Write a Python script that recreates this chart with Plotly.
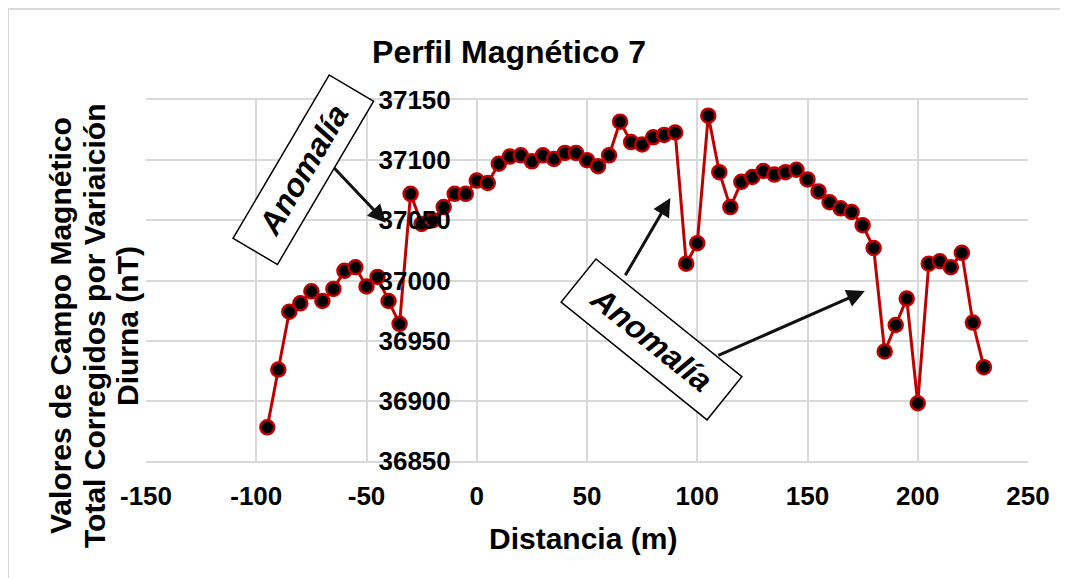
import plotly.graph_objects as go

distancia = [-95, -90, -85, -80, -75, -70, -65, -60, -55, -50, -45, -40, -35, -30, -25, -20,
             -15, -10, -5, 0, 5, 10, 15, 20, 25, 30, 35, 40, 45, 50, 55, 60, 65, 70, 75, 80,
             85, 90, 95, 100, 105, 110, 115, 120, 125, 130, 135, 140, 145, 150, 155, 160,
             165, 170, 175, 180, 185, 190, 195, 200, 205, 210, 215, 220, 225, 230]
campo = [36878, 36926, 36974, 36981, 36991, 36983, 36993, 37008, 37011, 36995, 37003, 36983,
         36964, 37072, 37047, 37050, 37061, 37072, 37072, 37083, 37081, 37097, 37103, 37104,
         37099, 37104, 37101, 37106, 37106, 37100, 37095, 37104, 37132, 37115, 37113, 37119,
         37121, 37123, 37014, 37031, 37137, 37090, 37061, 37082, 37086, 37091, 37088, 37090,
         37092, 37084, 37074, 37065, 37060, 37057, 37046, 37027, 36941, 36963, 36985, 36898,
         37014, 37016, 37011, 37023, 36965, 36928]

x_ticks = [-150, -100, -50, 0, 50, 100, 150, 200, 250]
y_ticks = [36850, 36900, 36950, 37000, 37050, 37100, 37150]

titulo = "Perfil Magnético 7"
x_titulo = "Distancia (m)"
y_titulo = ["Valores de Campo Magnético", "Total Corregidos por Variaición", "Diurna (nT)"]

FONT = "Liberation Sans, Arial, sans-serif"
RED = "#c00000"
GRID = "#d9d9d9"

# page offset of the plot div (browser body margin)
OFF = 8
W, H = 1060, 570
PL, PR, PT, PB = 146, 1028, 100, 461   # plot area in page pixels
L, R, T, B = PL - OFF, W - (PR - OFF), PT - OFF, H - (PB - OFF)
pw, ph = PR - PL, PB - PT


def px_x(p):
    return (p - PL) / pw


def px_y(p):
    return (PB - p) / ph


fig = go.Figure()
fig.add_trace(go.Scatter(
    x=distancia, y=campo, mode="lines+markers",
    line=dict(color=RED, width=3),
    marker=dict(size=14, color="black", line=dict(color=RED, width=2.5)),
    showlegend=False, cliponaxis=False,
))

fig.update_layout(
    width=W, height=H,
    margin=dict(l=L, r=R, t=T, b=B, autoexpand=False),
    paper_bgcolor="white", plot_bgcolor="white",
    font=dict(family=FONT, color="black"),
    title=dict(text=titulo, xref="container", yref="container",
               x=(509 - OFF) / W, xanchor="center", y=1 - (52 - OFF) / H, yanchor="middle",
               font=dict(size=32, weight="bold", family=FONT, color="black")),
    xaxis=dict(range=[-150, 250], tickvals=x_ticks, ticktext=[str(v) for v in x_ticks],
               showgrid=True, gridcolor=GRID, gridwidth=2, zeroline=False,
               showline=True, mirror=True, linecolor=GRID, linewidth=2,
               ticks="outside", ticklen=11, tickcolor="rgba(0,0,0,0)",
               tickfont=dict(size=26, weight="bold", family=FONT, color="black"),
               title=dict(text=""), fixedrange=True, automargin=False),
    yaxis=dict(range=[36850, 37150], tickvals=y_ticks, ticktext=[str(v) for v in y_ticks],
               anchor="free", position=px_x(476),
               showgrid=True, gridcolor=GRID, gridwidth=2, zeroline=False, showline=False,
               ticks="outside", ticklen=20, tickcolor="rgba(0,0,0,0)",
               tickfont=dict(size=26, weight="bold", family=FONT, color="black"),
               title=dict(text=""), fixedrange=True, automargin=False),
)

# Axis titles
fig.add_annotation(text=x_titulo, xref="paper", yref="paper", x=px_x(583), y=px_y(538),
                   xanchor="center", yanchor="middle", showarrow=False,
                   font=dict(size=30, weight="bold", family=FONT, color="black"))
for txt, cx in zip(y_titulo, [60, 94, 127]):
    fig.add_annotation(text=txt, xref="paper", yref="paper", x=px_x(cx), y=px_y(326),
                       xanchor="center", yanchor="middle", showarrow=False, textangle=-90,
                       font=dict(size=30, weight="bold", family=FONT, color="black"))

# Anomaly boxes
box_font = dict(size=32, weight="bold", style="italic", family=FONT, color="black")
fig.add_annotation(text="Anomalía", x=-78.5, y=37092, xref="x", yref="y",
                   xanchor="center", yanchor="middle", showarrow=False, textangle=-59.5,
                   width=186, height=48, borderpad=1, bordercolor="black", borderwidth=1.5,
                   bgcolor="white", font=box_font)
fig.add_annotation(text="Anomalía", x=79.3, y=36951, xref="x", yref="y",
                   xanchor="center", yanchor="middle", showarrow=False, textangle=38.9,
                   width=184, height=52, borderpad=1, bordercolor="black", borderwidth=1.5,
                   bgcolor="white", font=box_font)

# Arrows (tail -> head) in data coordinates
arrows = [((-65.3, 37094.8), (-41.2, 37048)),
          ((67.0, 37003.1), (87.8, 37068.5)),
          ((108.9, 36937.2), (176.0, 36991.2))]
for (tx, ty), (hx, hy) in arrows:
    fig.add_annotation(x=hx, y=hy, ax=tx, ay=ty, xref="x", yref="y", axref="x", ayref="y",
                       text="", showarrow=True, arrowhead=2, arrowsize=1.2, arrowwidth=3,
                       arrowcolor="#111111")

# Outer chart border
fig.add_shape(type="rect", xref="paper", yref="paper",
              x0=px_x(8), x1=px_x(1062), y0=px_y(590), y1=px_y(9),
              line=dict(color=GRID, width=2), fillcolor="rgba(0,0,0,0)", layer="below")

fig.write_html("out.html")
